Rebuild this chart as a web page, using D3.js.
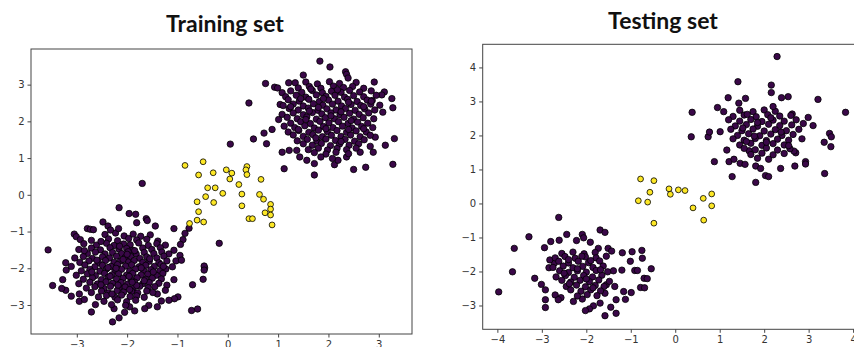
<!DOCTYPE html>
<html>
<head>
<meta charset="utf-8">
<script src="https://cdn.jsdelivr.net/npm/d3@7"></script>
<style>
  body { margin: 0; background: #fff; }
  svg { display: block; }
  .tick text { font-family: "DejaVu Sans", sans-serif; font-size: 10px; fill: #333; }
  .tick line { stroke: #444; }
  .title { font-family: Lato, "Open Sans", sans-serif; font-weight: bold; font-size: 23px; fill: #111; }
</style>
</head>
<body>
<div id="chart"></div>
<script>
// ---- data ----
const trainTicksX = [-3, -2, -1, 0, 1, 2, 3];
const trainTicksY = [-3, -2, -1, 0, 1, 2, 3];
const testTicksX = [-4, -3, -2, -1, 0, 1, 2, 3, 4];
const testTicksY = [-3, -2, -1, 0, 1, 2, 3, 4];

// training set, class 0, lower-left blob
const trainLowOuter = [
  [-3.57,-1.50],[-3.48,-2.47],[-3.28,-2.31],[-3.22,-1.85],[-3.21,-2.05],[-3.22,-2.60],[-3.11,-2.76],
  [-2.71,-3.19],[-2.63,-2.99],[-2.29,-3.46],[-2.16,-3.35],[-2.26,-3.10],[-1.85,-3.16],[-1.57,-3.01],
  [-2.16,-0.35],[-1.96,-0.51],[-1.83,-0.53],[-1.62,-0.65],[-1.60,-0.70],[-1.44,-0.85],[-1.81,-0.76],
  [-1.07,-0.92],[-2.48,-0.74],[-2.38,-0.85],[-2.79,-0.92],[-2.73,-0.94],[-2.67,-0.95],[-3.05,-1.07],
  [-3.01,-1.14],[-2.93,-1.22],[-2.23,-1.04],[-2.33,-0.96],[-2.17,-0.92],[-0.89,-1.22],[-0.94,-1.35],
  [-1.07,-1.51],[-0.95,-1.65],[-1.03,-1.80],[-0.92,-1.78],[-1.10,-1.96],[-1.07,-2.31],[-1.21,-2.46],
  [-1.24,-2.60],[-0.99,-2.78],[-1.06,-2.83],[-1.17,-2.87],[-1.32,-2.89],[-1.40,-2.70],[-0.70,-2.45],
  [-0.72,-3.15],[-0.60,-3.11],[-0.46,-1.99],[-0.47,-1.94],[-0.47,-2.05],[-0.49,-2.30],[-0.17,-1.32],
  [-0.77,-0.91],[-0.85,-1.05],[-2.95,-2.90],[-2.85,-2.85],[-3.30,-2.55],[-2.95,-2.70],[-1.40,-3.05],
  [-1.65,-3.10],[-2.05,-3.20],[-1.95,-3.05],[-1.70,0.31]
];
const trainLowCore = [
  [-2.44,-1.08],[-2.06,-1.12],[-1.88,-1.07],[-1.73,-1.13],[-1.54,-1.09],
  [-2.71,-1.24],[-2.37,-1.20],[-2.19,-1.25],[-1.97,-1.19],[-1.81,-1.23],[-1.61,-1.21],[-1.39,-1.26],
  [-2.86,-1.33],[-2.61,-1.37],[-2.41,-1.32],[-2.26,-1.38],[-2.07,-1.34],[-1.94,-1.36],[-1.77,-1.31],[-1.58,-1.38],[-1.41,-1.33],[-1.24,-1.37],
  [-2.96,-1.49],[-2.71,-1.45],[-2.53,-1.50],[-2.34,-1.44],[-2.16,-1.48],[-2.01,-1.46],[-1.89,-1.51],[-1.69,-1.45],[-1.51,-1.49],[-1.34,-1.44],
  [-2.79,-1.60],[-2.63,-1.56],[-2.44,-1.61],[-2.29,-1.57],[-2.11,-1.60],[-1.98,-1.55],[-1.82,-1.61],[-1.66,-1.57],[-1.47,-1.60],[-1.31,-1.56],[-1.17,-1.61],
  [-3.04,-1.72],[-2.87,-1.68],[-2.69,-1.73],[-2.49,-1.69],[-2.35,-1.72],[-2.21,-1.67],[-2.04,-1.71],[-1.93,-1.68],[-1.75,-1.73],[-1.61,-1.69],[-1.41,-1.72],[-1.27,-1.67],
  [-2.94,-1.84],[-2.76,-1.80],[-2.57,-1.85],[-2.43,-1.79],[-2.26,-1.84],[-2.13,-1.80],[-1.98,-1.83],[-1.86,-1.79],[-1.69,-1.84],[-1.56,-1.81],[-1.37,-1.85],[-1.21,-1.80],
  [-3.11,-1.95],[-2.84,-1.91],[-2.64,-1.96],[-2.49,-1.92],[-2.32,-1.95],[-2.19,-1.90],[-2.03,-1.94],[-1.91,-1.91],[-1.76,-1.96],[-1.63,-1.92],[-1.46,-1.95],[-1.33,-1.90],
  [-2.91,-2.07],[-2.74,-2.03],[-2.54,-2.08],[-2.41,-2.02],[-2.24,-2.06],[-2.11,-2.03],[-1.95,-2.08],[-1.83,-2.02],[-1.67,-2.07],[-1.53,-2.04],[-1.35,-2.07],[-1.23,-2.02],
  [-3.01,-2.19],[-2.79,-2.15],[-2.63,-2.20],[-2.45,-2.14],[-2.30,-2.18],[-2.17,-2.15],[-2.01,-2.19],[-1.89,-2.14],[-1.72,-2.18],[-1.59,-2.16],[-1.42,-2.19],[-1.29,-2.14],
  [-2.87,-2.30],[-2.69,-2.26],[-2.51,-2.31],[-2.38,-2.25],[-2.21,-2.29],[-2.08,-2.27],[-1.92,-2.31],[-1.80,-2.26],[-1.63,-2.30],[-1.50,-2.27],[-1.32,-2.29],
  [-2.96,-2.42],[-2.74,-2.38],[-2.59,-2.43],[-2.42,-2.37],[-2.29,-2.41],[-2.12,-2.39],[-1.99,-2.43],[-1.85,-2.38],[-1.69,-2.42],[-1.56,-2.39],[-1.37,-2.41],
  [-2.81,-2.54],[-2.64,-2.50],[-2.46,-2.55],[-2.33,-2.49],[-2.16,-2.53],[-2.04,-2.51],[-1.88,-2.55],[-1.75,-2.49],[-1.58,-2.53],[-1.45,-2.50],
  [-2.71,-2.66],[-2.51,-2.62],[-2.37,-2.67],[-2.20,-2.61],[-2.07,-2.65],[-1.91,-2.63],[-1.79,-2.67],[-1.61,-2.62],[-1.49,-2.66],
  [-2.57,-2.78],[-2.41,-2.74],[-2.24,-2.79],[-2.11,-2.73],[-1.94,-2.77],[-1.81,-2.75],[-1.66,-2.79],
  [-2.46,-2.90],[-2.19,-2.86],[-2.01,-2.91],[-1.83,-2.87],
  [-2.31,-2.99],[-2.03,-3.01],
  [-2.52,-1.27],[-2.15,-1.40],[-1.85,-1.52],[-2.60,-1.78],[-2.38,-1.98],[-2.08,-1.76],[-1.72,-1.99],
  [-1.48,-2.10],[-2.70,-2.10],[-2.34,-2.22],[-1.96,-2.22],[-1.66,-2.34],[-2.52,-2.45],[-2.18,-2.46],
  [-1.81,-2.47],[-2.30,-2.70],[-1.95,-2.58],[-2.85,-1.52],[-1.55,-1.74],[-1.28,-1.95],[-2.00,-1.62],
  [-2.22,-2.00],[-1.90,-2.38]
];
// training set, class 0, upper-right blob
const trainHighOuter = [
  [1.83,3.64],[2.03,3.48],[2.34,3.35],[2.36,3.28],[2.39,3.18],[1.50,3.26],[0.75,3.03],[0.93,2.93],
  [0.99,2.91],[1.08,2.78],[1.21,3.05],[1.34,3.05],[2.91,3.07],[3.11,2.80],[3.06,2.72],[3.26,2.62],
  [3.28,2.37],[2.87,2.57],[3.08,2.25],[0.42,2.50],[1.04,2.46],[1.01,2.05],[0.88,1.78],[0.72,1.68],
  [0.51,1.52],[0.05,1.38],[0.77,1.39],[1.12,0.71],[1.72,0.54],[1.72,0.85],[2.12,0.82],[2.50,0.69],
  [2.74,0.75],[3.28,0.83],[3.31,1.53],[3.13,1.35],[2.89,1.16],[2.83,1.32],[2.93,1.57],[1.43,1.03],
  [1.37,1.21],[1.22,1.21],[1.08,1.16],[1.57,0.94],[2.19,0.94],[2.36,1.03],[2.63,1.16]
];
const trainHighCore = [
  [1.55,3.07],[1.78,3.02],[2.02,3.08],[2.22,3.03],[2.55,3.06],
  [1.40,2.91],[1.62,2.95],[1.85,2.90],[2.10,2.96],[2.30,2.92],[2.48,2.95],[2.70,2.90],
  [1.25,2.83],[1.47,2.79],[1.68,2.84],[1.88,2.78],[2.06,2.82],[2.25,2.79],[2.42,2.84],[2.62,2.80],[2.85,2.83],
  [1.15,2.67],[1.36,2.71],[1.55,2.66],[1.76,2.72],[1.95,2.68],[2.13,2.71],[2.32,2.66],[2.50,2.70],[2.70,2.67],[2.95,2.71],
  [1.20,2.59],[1.42,2.55],[1.61,2.60],[1.82,2.54],[2.00,2.58],[2.19,2.55],[2.38,2.60],[2.57,2.54],[2.77,2.58],
  [1.10,2.43],[1.30,2.47],[1.50,2.42],[1.70,2.48],[1.89,2.44],[2.08,2.47],[2.26,2.42],[2.45,2.46],[2.64,2.43],[2.84,2.47],[3.02,2.44],
  [1.22,2.35],[1.40,2.31],[1.60,2.36],[1.79,2.30],[1.97,2.34],[2.15,2.31],[2.34,2.35],[2.53,2.30],[2.72,2.34],[2.92,2.31],
  [1.08,2.19],[1.30,2.23],[1.50,2.18],[1.68,2.24],[1.87,2.20],[2.05,2.23],[2.23,2.18],[2.42,2.22],[2.61,2.19],[2.80,2.23],
  [1.18,2.11],[1.38,2.07],[1.57,2.12],[1.76,2.06],[1.94,2.10],[2.12,2.07],[2.31,2.11],[2.50,2.06],[2.69,2.10],[2.90,2.07],
  [1.25,1.95],[1.45,1.99],[1.64,1.94],[1.83,2.00],[2.01,1.96],[2.20,1.99],[2.39,1.94],[2.58,1.98],[2.78,1.95],
  [1.12,1.87],[1.33,1.83],[1.53,1.88],[1.72,1.82],[1.90,1.86],[2.09,1.83],[2.28,1.87],[2.47,1.82],[2.66,1.86],[2.88,1.83],
  [1.20,1.71],[1.41,1.75],[1.61,1.70],[1.80,1.76],[1.98,1.72],[2.17,1.75],[2.36,1.70],[2.55,1.74],[2.75,1.71],
  [1.30,1.63],[1.50,1.59],[1.69,1.64],[1.88,1.58],[2.06,1.62],[2.25,1.59],[2.44,1.63],[2.63,1.58],[2.83,1.62],
  [1.38,1.47],[1.58,1.51],[1.77,1.46],[1.95,1.52],[2.14,1.48],[2.33,1.51],[2.52,1.46],[2.71,1.50],
  [1.50,1.39],[1.68,1.35],[1.86,1.40],[2.04,1.34],[2.22,1.38],[2.41,1.35],[2.60,1.39],
  [1.60,1.23],[1.80,1.27],[1.98,1.22],[2.17,1.26],[2.36,1.23],[2.55,1.27],
  [1.72,1.15],[1.95,1.11],[2.15,1.16],[2.40,1.12],
  [1.85,1.03],[2.08,0.99],
  [1.65,2.88],[2.18,2.86],[1.45,2.62],[1.90,2.62],[2.40,2.52],[1.25,2.40],[1.80,2.38],[2.25,2.26],
  [2.70,2.40],[1.55,2.05],[2.05,2.15],[2.45,2.02],[1.40,1.78],[1.95,1.80],[2.40,1.78],[1.75,1.55],
  [2.25,1.45],[2.70,1.80],[1.62,2.28],[2.85,2.55]
];
// training set, class 1
const trainMid = [
  [-0.85,0.80],[-0.49,0.90],[-0.58,0.54],[-0.29,0.60],[-0.03,0.68],[0.08,0.59],[0.04,0.43],
  [0.38,0.77],[0.36,0.68],[0.38,0.55],[0.66,0.42],[0.22,0.28],[-0.40,0.19],[-0.25,0.19],
  [-0.10,0.04],[-0.44,-0.05],[-0.61,-0.19],[-0.28,-0.21],[0.28,0.02],[0.28,-0.30],[0.63,0.01],
  [0.71,-0.12],[0.85,-0.26],[0.85,-0.39],[0.74,-0.49],[0.85,-0.55],[0.42,-0.65],[0.49,-0.65],
  [0.88,-0.82],[-0.58,-0.46],[-0.61,-0.69],[-0.48,-0.74],[-0.76,-0.78]
];

// testing set, class 0, lower-left blob
const testLowOuter = [
  [-2.62,-0.41],[-3.29,-0.98],[-3.62,-1.32],[-3.66,-2.01],[-3.97,-2.60],[-3.16,-2.20],[-2.92,-3.06],
  [-2.92,-2.83],[-2.94,-1.30],[-2.80,-1.12],[-2.61,-1.08],[-2.44,-0.91],[-2.22,-1.09],[-2.09,-0.91],
  [-2.06,-1.01],[-1.91,-1.14],[-1.69,-0.78],[-1.58,-0.85],[-1.51,-1.32],[-1.43,-1.40],[-1.73,-1.32],
  [-1.19,-1.45],[-1.01,-1.70],[-0.97,-1.42],[-0.91,-1.97],[-1.20,-1.96],[-1.39,-1.98],[-0.70,-2.20],
  [-0.78,-2.47],[-0.99,-2.62],[-1.12,-2.82],[-1.16,-2.59],[-1.33,-2.83],[-1.45,-3.05],[-1.33,-3.23],
  [-1.58,-3.30],[-1.69,-2.93],[-1.84,-3.01],[-1.93,-3.10],[-2.02,-3.15],[-2.09,-2.81],[-2.29,-2.88],
  [-2.57,-2.77],[-2.70,-2.69],[-2.63,-2.83],[-3.01,-2.38],[-2.92,-2.54],[-2.84,-1.89],[-2.72,-1.76],
  [-2.82,-1.66],[-1.58,-2.64],[-1.55,-2.39],[-1.36,-2.44],[-0.75,-1.38],[-0.74,-1.61],[-0.85,-1.97],
  [-0.54,-1.92],[-0.63,-2.21],[-0.69,-2.48]
];
const testLowCore = [
  [-2.55,-1.47],[-2.30,-1.43],[-2.05,-1.48],[-1.80,-1.44],
  [-2.70,-1.60],[-2.48,-1.56],[-2.25,-1.61],[-2.02,-1.57],[-1.78,-1.60],[-1.55,-1.55],
  [-2.62,-1.70],[-2.40,-1.75],[-2.18,-1.70],[-1.95,-1.74],[-1.70,-1.69],
  [-2.75,-1.88],[-2.52,-1.84],[-2.30,-1.89],[-2.08,-1.85],[-1.85,-1.88],[-1.62,-1.84],
  [-2.60,-1.98],[-2.40,-2.03],[-2.20,-1.98],[-2.00,-2.02],[-1.78,-1.97],[-1.52,-2.01],
  [-2.68,-2.16],[-2.47,-2.12],[-2.27,-2.17],[-2.06,-2.12],[-1.86,-2.16],[-1.65,-2.11],
  [-2.55,-2.26],[-2.35,-2.31],[-2.14,-2.26],[-1.93,-2.30],[-1.72,-2.25],[-1.48,-2.29],
  [-2.45,-2.44],[-2.22,-2.40],[-2.02,-2.45],[-1.80,-2.41],[-1.60,-2.44],
  [-2.35,-2.54],[-2.12,-2.58],[-1.90,-2.54],[-1.68,-2.57],
  [-2.20,-2.72],[-1.98,-2.68],[-1.76,-2.71],
  [-2.40,-1.65],[-1.90,-1.68],[-2.20,-1.92],[-1.68,-1.95],[-2.50,-2.05],[-2.00,-2.22],
  [-2.38,-2.36],[-1.85,-2.48],[-2.10,-1.55]
];
// testing set, class 0, upper-right blob
const testHighOuter = [
  [2.29,4.32],[1.41,3.58],[2.16,3.48],[2.16,3.26],[2.39,3.11],[2.54,3.14],[1.19,3.11],[1.58,3.09],
  [1.43,2.95],[3.21,3.06],[3.83,2.68],[0.38,2.68],[0.95,2.82],[1.09,2.70],[0.36,1.96],[0.74,1.96],
  [0.77,2.10],[1.01,2.11],[0.88,1.23],[1.16,1.57],[1.21,1.23],[1.32,1.30],[1.46,1.18],[1.57,1.15],
  [1.28,0.79],[1.81,0.62],[2.03,0.82],[2.10,0.79],[2.37,1.03],[2.69,1.10],[2.93,1.23],[2.93,1.16],
  [3.36,0.88],[2.71,1.49],[2.67,1.54],[3.35,1.80],[3.47,2.06],[3.51,1.96],[3.50,1.67],[3.10,2.29],
  [2.99,2.53],[2.88,2.35],[2.63,2.63],[1.81,1.10],[1.92,1.03],[1.66,1.55]
];
const testHighCore = [
  [1.45,2.74],[1.75,2.70],[2.00,2.75],[2.25,2.71],
  [1.30,2.56],[1.55,2.60],[1.82,2.55],[2.08,2.61],[2.35,2.57],[2.60,2.59],
  [1.20,2.46],[1.45,2.42],[1.70,2.47],[1.95,2.41],[2.20,2.45],[2.45,2.42],[2.72,2.46],
  [1.35,2.28],[1.60,2.32],[1.85,2.27],[2.10,2.33],[2.35,2.29],[2.62,2.31],
  [1.25,2.18],[1.50,2.14],[1.75,2.19],[2.00,2.13],[2.25,2.17],[2.50,2.14],[2.78,2.18],
  [1.40,2.00],[1.65,2.05],[1.90,1.99],[2.15,2.04],[2.40,2.00],[2.65,2.03],
  [1.30,1.90],[1.55,1.86],[1.80,1.91],[2.05,1.85],[2.30,1.89],[2.55,1.86],[2.85,1.90],
  [1.45,1.72],[1.70,1.77],[1.95,1.71],[2.20,1.76],[2.45,1.72],
  [1.55,1.62],[1.80,1.58],[2.05,1.63],[2.30,1.57],[2.58,1.61],
  [1.70,1.44],[1.95,1.48],[2.20,1.43],[2.45,1.47],
  [1.85,1.33],[2.10,1.30],
  [1.62,2.62],[2.15,2.52],[1.85,2.38],[1.52,2.22],[2.38,2.10],[1.78,1.98],[2.05,1.80],
  [1.60,1.82],[2.55,1.70],[2.20,2.85]
];
// testing set, class 1
const testMid = [
  [-0.78,0.72],[-0.48,0.67],[-0.57,0.33],[-0.83,0.08],[-0.62,0.04],[-0.14,0.43],[-0.11,0.27],
  [0.07,0.40],[0.22,0.38],[0.63,0.15],[0.82,0.28],[0.82,-0.07],[0.40,-0.13],[-0.48,-0.58],[0.64,-0.49]
];

const colorDark = "#3a0848";
const colorLight = "#fde725";

const width = 854, height = 347;
const svg = d3.select("#chart").append("svg")
  .attr("width", width)
  .attr("height", height);

function drawPanel(p) {
  const x = d3.scaleLinear().domain(p.xDomain).range([p.left, p.right]);
  const y = d3.scaleLinear().domain(p.yDomain).range([p.bottom, p.top]);
  const g = svg.append("g");

  const clip = "clip-" + p.id;
  g.append("clipPath").attr("id", clip)
    .append("rect")
    .attr("x", p.left).attr("y", p.top)
    .attr("width", p.right - p.left).attr("height", p.bottom - p.top);

  const dots = g.append("g").attr("clip-path", `url(#${clip})`);
  const dark = p.dark.flat();
  dots.selectAll("circle.dark")
    .data(dark)
    .enter()
    .append("circle")
    .attr("class", "dark")
    .attr("cx", d => x(d[0]))
    .attr("cy", d => y(d[1]))
    .attr("r", 3.2)
    .attr("fill", colorDark)
    .attr("stroke", "#000")
    .attr("stroke-width", 0.8);

  dots.selectAll("circle.light")
    .data(p.light)
    .enter()
    .append("circle")
    .attr("class", "light")
    .attr("cx", d => x(d[0]))
    .attr("cy", d => y(d[1]))
    .attr("r", 2.9)
    .attr("fill", colorLight)
    .attr("stroke", "#000")
    .attr("stroke-width", 0.8);

  g.append("g")
    .attr("transform", `translate(0,${p.bottom})`)
    .call(d3.axisBottom(x).tickValues(p.xTicks).tickSize(3.5).tickPadding(3))
    .call(a => a.select(".domain").remove());

  g.append("g")
    .attr("transform", `translate(${p.left},0)`)
    .call(d3.axisLeft(y).tickValues(p.yTicks).tickSize(3.5).tickPadding(3))
    .call(a => a.select(".domain").remove());

  g.append("rect")
    .attr("x", p.left).attr("y", p.top)
    .attr("width", p.right - p.left).attr("height", p.bottom - p.top)
    .attr("fill", "none")
    .attr("stroke", "#444")
    .attr("stroke-width", 1);

  svg.append("text")
    .attr("class", "title")
    .attr("x", p.titleX)
    .attr("y", p.titleY)
    .attr("text-anchor", "middle")
    .text(p.title);
}

drawPanel({
  id: "train", title: "Training set", titleX: 225, titleY: 32,
  left: 31, right: 412, top: 49, bottom: 334,
  xDomain: [-3.91, 3.66], yDomain: [-3.79, 3.97],
  xTicks: trainTicksX, yTicks: trainTicksY,
  dark: [trainLowOuter, trainLowCore, trainHighOuter, trainHighCore],
  light: trainMid
});

drawPanel({
  id: "test", title: "Testing set", titleX: 663, titleY: 29,
  left: 482.7, right: 862, top: 44.3, bottom: 329.3,
  xDomain: [-4.33, 4.2], yDomain: [-3.70, 4.68],
  xTicks: testTicksX, yTicks: testTicksY,
  dark: [testLowOuter, testLowCore, testHighOuter, testHighCore],
  light: testMid
});
</script>
</body>
</html>
